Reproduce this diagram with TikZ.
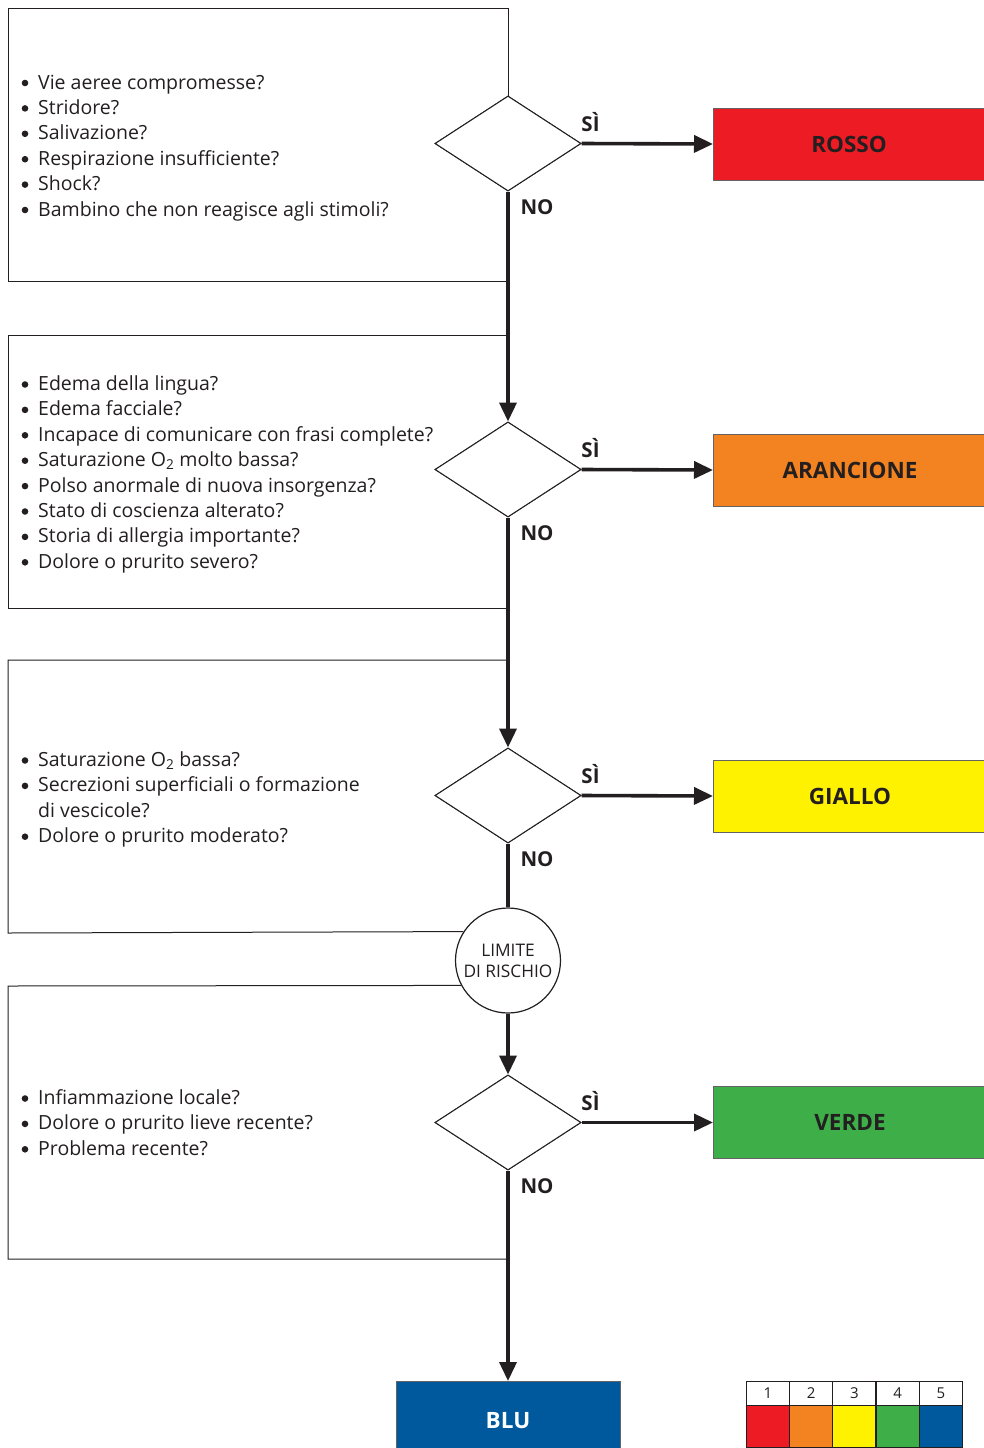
\documentclass[tikz,border=0pt]{standalone}
\usepackage{fontspec}
\setmainfont{Open Sans}
\usetikzlibrary{shapes.geometric,arrows.meta,calc}
\definecolor{ink}{HTML}{231F20}
\definecolor{cred}{HTML}{ED1C24}
\definecolor{corange}{HTML}{F38221}
\definecolor{cyellow}{HTML}{FFF200}
\definecolor{cgreen}{HTML}{3EAE49}
\definecolor{cblue}{HTML}{00599C}
\newcommand{\bul}{\makebox[16.5pt][l]{\tikz[baseline=0pt]\fill[ink] (3.3pt,6pt) circle[radius=3.3pt];}}
\begin{document}
\begin{tikzpicture}[x=1pt,y=-1pt,
  boxline/.style={draw=ink,line width=1pt},
  flow/.style={draw=ink,line width=3.6pt},
  arr/.style={flow,-{Triangle[length=19pt,width=17pt]}},
  dec/.style={draw=ink,line width=1pt,diamond,minimum width=146pt,minimum height=95pt,inner sep=0pt,fill=white},
  outbox/.style={draw=ink!70,line width=1pt,minimum width=273pt,minimum height=72pt,anchor=west,inner sep=0pt,font=\fontsize{22.5}{26}\selectfont\bfseries,text=ink},
  lbl/.style={font=\fontsize{20.5}{24}\selectfont\bfseries,text=ink},
  list/.style={anchor=base west,inner sep=0pt,font=\fontsize{19.5}{25.4}\selectfont,text=ink},
  cell/.style={draw=ink,line width=1pt,minimum width=43pt,inner sep=0pt,anchor=north west}
]
\useasboundingbox (0,0) rectangle (984,1448);
\fill[white] (0,0) rectangle (984,1448);

% decisions
\node[dec] (d1) at (508,143.5) {};
\node[dec] (d2) at (508,469.5) {};
\node[dec] (d3) at (508,795.5) {};
\node[dec] (d4) at (508,1122.5) {};

% outcome boxes
\node[outbox,fill=cred] (r) at (713,144) {\hspace*{-2pt}ROSSO};
\node[outbox,fill=corange] (o) at (713,470) {ARANCIONE};
\node[outbox,fill=cyellow] (y) at (713,796) {GIALLO};
\node[outbox,fill=cgreen] (g) at (713,1122.5) {VERDE};
\node[draw=ink!70,line width=1pt,fill=cblue,minimum width=224pt,minimum height=80pt,anchor=north,inner sep=0pt,text=white,font=\fontsize{22.5}{26}\selectfont\bfseries] (b) at (508,1381) {\raisebox{2pt}{BLU}};

% risk limit circle
\node[circle,draw=ink,line width=1.2pt,fill=white,minimum size=105pt,inner sep=0pt,align=center,font=\fontsize{17.3}{21}\selectfont,text=ink] (c) at (508,960.5) {LIMITE\\DI RISCHIO};

% question boxes
\draw[boxline] (d1.north) -- (508,8) -- (8,8) -- (8,281) -- (508,281);
\draw[boxline] (508,335) -- (8,335) -- (8,608) -- (508,608);
\draw[boxline] (508,660) -- (8,660) -- (8,933) -- (c.147.5);
\draw[boxline] (c.208.5) -- (8,986) -- (8,1259) -- (508,1259);

% flow
\draw[arr] (d1.south) -- (d2.north);
\draw[arr] (d2.south) -- (d3.north);
\draw[flow] (d3.south) -- (c.north);
\draw[arr] (c.south) -- (d4.north);
\draw[arr] (d4.south) -- (b.north);
\draw[arr] (d1.east) -- (r.west);
\draw[arr] (d2.east) -- (o.west);
\draw[arr] (d3.east) -- (y.west);
\draw[arr] (d4.east) -- (g.west);

% redraw shapes on top of line ends
\node[dec] at (d1) {};
\node[dec] at (d2) {};
\node[dec] at (d3) {};
\node[dec] at (d4) {};

% labels
\foreach \n in {1,2,3,4}{
  \node[lbl] (si\n) at ($(d\n.east)+(9,-21)$) {SÌ};
}
\foreach \n in {1,2,3,4}{
  \node[lbl] (no\n) at ($(d\n.south)+(29,16)$) {NO};
}

% lists
\node[list] (t1) at (21.5,89) {\begin{tabular}[t]{@{}l@{}l@{}}
\bul&Vie aeree compromesse?\\
\bul&Stridore?\\
\bul&Salivazione?\\
\bul&Respirazione insufficiente?\\
\bul&Shock?\\
\bul&Bambino che non reagisce agli stimoli?
\end{tabular}};
\node[list] (t2) at (21.5,390.5) {\begin{tabular}[t]{@{}l@{}l@{}}
\bul&Edema della lingua?\\
\bul&Edema facciale?\\
\bul&Incapace di comunicare con frasi complete?\\
\bul&Saturazione O\textsubscript{2} molto bassa?\\
\bul&Polso anormale di nuova insorgenza?\\
\bul&Stato di coscienza alterato?\\
\bul&Storia di allergia importante?\\
\bul&Dolore o prurito severo?
\end{tabular}};
\node[list] (t3) at (21.5,766.5) {\begin{tabular}[t]{@{}l@{}l@{}}
\bul&Saturazione O\textsubscript{2} bassa?\\
\bul&Secrezioni superficiali o formazione\\
&di vescicole?\\
\bul&Dolore o prurito moderato?
\end{tabular}};
\node[list] (t4) at (21.5,1104.5) {\begin{tabular}[t]{@{}l@{}l@{}}
\bul&Infiammazione locale?\\
\bul&Dolore o prurito lieve recente?\\
\bul&Problema recente?
\end{tabular}};

% legend
\foreach \i/\col in {0/cred,1/corange,2/cyellow,3/cgreen,4/cblue}{
  \pgfmathtruncatemacro{\k}{\i+1}
  \node[cell,minimum height=24pt,font=\fontsize{15}{18}\selectfont,text=ink] (n\k) at (746+43.2*\i,1380.5) {\k};
  \node[cell,fill=\col,minimum height=42.5pt] (s\k) at (746+43.2*\i,1404.5) {};
}
\end{tikzpicture}
\end{document}
